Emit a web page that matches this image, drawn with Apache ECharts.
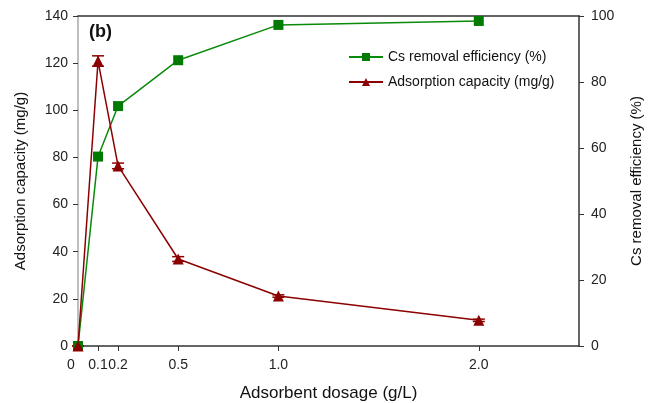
<!DOCTYPE html>
<html>
<head>
<meta charset="utf-8">
<script src="https://cdn.jsdelivr.net/npm/echarts@6/dist/echarts.min.js"></script>
<style>html,body{margin:0;padding:0;background:#fff;}#c{width:654px;height:403px;}</style>
</head>
<body>
<div id="c"></div>
<script>
const dosage = [0, 0.1, 0.2, 0.5, 1.0, 2.0];
const removalEff = [0, 57.4, 72.7, 86.6, 97.3, 98.5];
const adsCapacity = [0, 120.9, 76.4, 36.9, 21.2, 10.9];
const adsError = [0, 2.2, 1.2, 1.0, 0.5, 0.5];
const xTicks = [0.1, 0.2, 0.5, 1.0, 2.0];
const xTickLabels = ['0', '0.1', '0.2', '0.5', '1.0', '2.0'];
const xLabelValues = [0, 0.1, 0.2, 0.5, 1.0, 2.0];

const font = 'Liberation Sans, Arial, sans-serif';
const chart = echarts.init(document.getElementById('c'));
const green = '#0a8a0a', greenMark = '#007a00', red = '#8b0000';

chart.setOption({
  animation: false,
  backgroundColor: '#fff',
  textStyle: { fontFamily: font },
  grid: { left: 78, right: 75, top: 16, bottom: 57, containLabel: false, outerBoundsMode: 'none' },
  graphic: [{ type: 'text', left: 89, top: 23, style: { text: '(b)', font: 'bold 18px ' + font, fill: '#111' } }],
  legend: {
    orient: 'vertical', left: 343, top: 45, itemGap: 11, itemWidth: 34, itemHeight: 10,
    textStyle: { fontFamily: font, fontSize: 14, color: '#111' },
    data: ['Cs removal efficiency (%)', 'Adsorption capacity (mg/g)']
  },
  xAxis: [{
    type: 'value', min: 0, max: 2.5, position: 'bottom',
    name: 'Adsorbent dosage (g/L)', nameLocation: 'middle', nameGap: 39,
    nameTextStyle: { fontSize: 17, color: '#111', fontFamily: font },
    axisLine: { onZero: false, lineStyle: { color: '#333', width: 1.5 } },
    axisTick: { show: true, length: 5, lineStyle: { color: '#333' }, customValues: xTicks },
    axisLabel: {
      fontSize: 14, color: '#222', margin: 12, customValues: xLabelValues,
      rich: { z: { fontSize: 14, color: '#222', padding: [0, 14, 0, 0] } },
      formatter: function (v) {
        const i = xLabelValues.findIndex(x => Math.abs(x - v) < 1e-9);
        if (i === 0) return '{z|0}';
        return i >= 0 ? xTickLabels[i] : '';
      }
    },
    splitLine: { show: false }
  }, {
    type: 'value', min: 0, max: 2.5, position: 'top',
    axisLine: { show: true, onZero: false, lineStyle: { color: '#333', width: 1.5 } },
    axisTick: { show: false }, axisLabel: { show: false }, splitLine: { show: false }
  }],
  yAxis: [{
    type: 'value', min: 0, max: 140, interval: 20, position: 'left',
    name: 'Adsorption capacity (mg/g)', nameLocation: 'middle', nameGap: 50, nameRotate: 90,
    nameTextStyle: { fontSize: 15, color: '#111', fontFamily: font },
    axisLine: { show: true, onZero: false, lineStyle: { color: '#aaa', width: 1.5 } },
    axisTick: { show: true, length: 5, lineStyle: { color: '#333' } },
    axisLabel: { fontSize: 14, color: '#222', margin: 10 },
    splitLine: { show: false }
  }, {
    type: 'value', min: 0, max: 100, interval: 20, position: 'right',
    name: 'Cs removal efficiency (%)', nameLocation: 'middle', nameGap: 50, nameRotate: 90,
    nameTextStyle: { fontSize: 15, color: '#111', fontFamily: font },
    axisLine: { show: true, onZero: false, lineStyle: { color: '#333', width: 1.5 } },
    axisTick: { show: true, length: 5, lineStyle: { color: '#333' } },
    axisLabel: { fontSize: 14, color: '#222', margin: 12 },
    splitLine: { show: false }
  }],
  series: [{
    name: 'Cs removal efficiency (%)', type: 'line', yAxisIndex: 1,
    data: dosage.map((d, i) => [d, removalEff[i]]),
    symbol: 'rect', symbolSize: 10,
    lineStyle: { color: green, width: 1.5 },
    itemStyle: { color: greenMark }
  }, {
    name: 'Adsorption capacity (mg/g)', type: 'line', yAxisIndex: 0,
    data: dosage.map((d, i) => [d, adsCapacity[i]]),
    symbol: 'triangle', symbolSize: 11,
    lineStyle: { color: red, width: 1.5 },
    itemStyle: { color: red }
  }, {
    type: 'custom', yAxisIndex: 0, silent: true,
    data: dosage.map((d, i) => [d, adsCapacity[i], adsError[i]]),
    renderItem: function (params, api) {
      const x = api.value(0), y = api.value(1), e = api.value(2);
      const lo = api.coord([x, y - e]), hi = api.coord([x, y + e]);
      const w = 6;
      const st = { stroke: red, lineWidth: 1.5 };
      return { type: 'group', children: [
        { type: 'line', shape: { x1: lo[0], y1: lo[1], x2: hi[0], y2: hi[1] }, style: st },
        { type: 'line', shape: { x1: lo[0] - w, y1: lo[1], x2: lo[0] + w, y2: lo[1] }, style: st },
        { type: 'line', shape: { x1: hi[0] - w, y1: hi[1], x2: hi[0] + w, y2: hi[1] }, style: st }
      ]};
    }
  }]
});
</script>
</body>
</html>
